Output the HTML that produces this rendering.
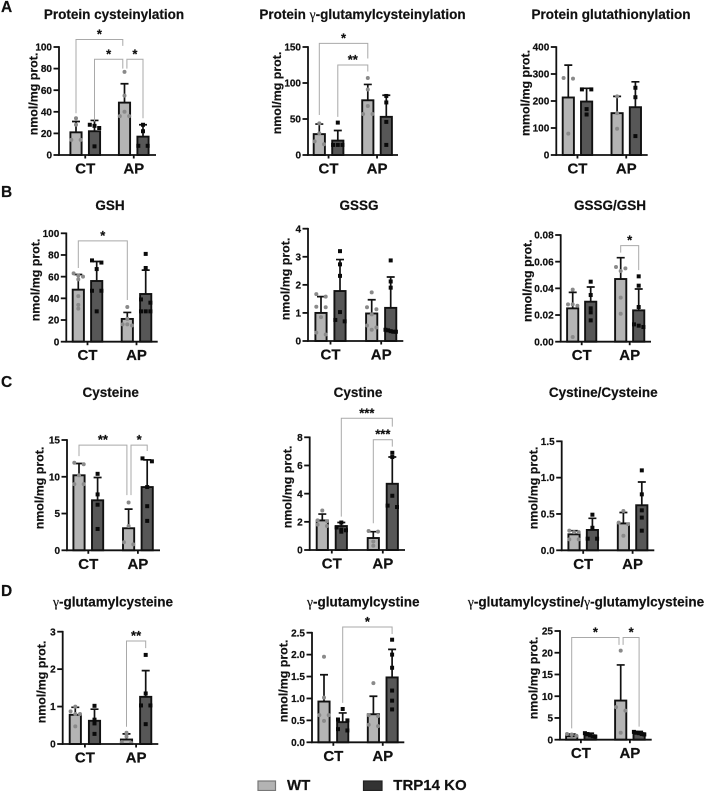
<!DOCTYPE html>
<html lang="en">
<head>
<meta charset="utf-8">
<title>Thiol metabolites in WT and TRP14 KO</title>
<style>
html,body{margin:0;padding:0;background:#fff;}
svg{display:block;font-family:"Liberation Sans",sans-serif;font-weight:bold;fill:#111;filter:blur(0.35px);}
svg text{stroke:#111;stroke-width:0.2px;}
.title{font-size:13.5px;text-anchor:middle;}
.ylabel{font-size:12.4px;text-anchor:middle;}
.letter{font-size:15.5px;}
.legend{font-size:15px;}
.g{font-family:"Liberation Serif",serif;font-weight:normal;}
</style>
</head>
<body>
<svg id="figure" width="705" height="791" viewBox="0 0 705 791" xmlns="http://www.w3.org/2000/svg">
  <text class="letter" x="1" y="12">A</text>
  <text class="letter" x="1" y="197">B</text>
  <text class="letter" x="1" y="387">C</text>
  <text class="letter" x="1" y="596">D</text>

  <text class="title" x="114" y="19">Protein cysteinylation</text>
  <text class="title" x="362.5" y="19">Protein <tspan class="g">γ</tspan>-glutamylcysteinylation</text>
  <text class="title" x="611" y="19">Protein glutathionylation</text>
  <text class="title" x="110" y="210">GSH</text>
  <text class="title" x="359" y="210">GSSG</text>
  <text class="title" x="610" y="210">GSSG/GSH</text>
  <text class="title" x="110.7" y="397">Cysteine</text>
  <text class="title" x="358" y="397">Cystine</text>
  <text class="title" x="603.3" y="397">Cystine/Cysteine</text>
  <text class="title" x="113" y="606.5"><tspan class="g">γ</tspan>-glutamylcysteine</text>
  <text class="title" x="363.3" y="606.5"><tspan class="g">γ</tspan>-glutamylcystine</text>
  <text class="title" x="586" y="606.5"><tspan class="g">γ</tspan>-glutamylcystine/<tspan class="g">γ</tspan>-glutamylcysteine</text>

  <text class="ylabel" transform="translate(37.5,94) rotate(-90)">nmol/mg prot.</text>
  <text class="ylabel" transform="translate(281,93) rotate(-90)">nmol/mg prot.</text>
  <text class="ylabel" transform="translate(529.5,93) rotate(-90)">mmol/mg prot.</text>
  <text class="ylabel" transform="translate(39.5,280) rotate(-90)">nmol/mg prot.</text>
  <text class="ylabel" transform="translate(289.5,279) rotate(-90)">nmol/mg prot.</text>
  <text class="ylabel" transform="translate(531.5,280.7) rotate(-90)">nmol/mg prot.</text>
  <text class="ylabel" transform="translate(43.5,488) rotate(-90)">nmol/mg prot.</text>
  <text class="ylabel" transform="translate(291.5,487) rotate(-90)">nmol/mg prot.</text>
  <text class="ylabel" transform="translate(537.5,488) rotate(-90)">nmol/mg prot.</text>
  <text class="ylabel" transform="translate(45.5,682) rotate(-90)">nmol/mg prot.</text>
  <text class="ylabel" transform="translate(287.5,681) rotate(-90)">nmol/mg prot.</text>
  <text class="ylabel" transform="translate(537.5,678) rotate(-90)">nmol/mg prot.</text>

  <g>
    <rect x="258" y="781" width="17.5" height="9.5" fill="#b3b3b3" stroke="#777" stroke-width="1.2"/>
    <text class="legend" x="287" y="790">WT</text>
    <rect x="363.5" y="781" width="18.5" height="9.5" fill="#333" stroke="#222" stroke-width="1.2"/>
    <text class="legend" x="393.3" y="790">TRP14 KO</text>
  </g>
</svg>
<script>
// Shared categories
const groupLabels = ['CT', 'AP'];
const seriesNames = ['WT', 'KO', 'WT', 'KO'];

// A1 Protein cysteinylation
const a1Ticks = ['0', '20', '40', '60', '80', '100'];
const a1Means = [21, 22, 48.5, 17];
const a1Upper = [31, 32, 66, 28];
const a1Points = [[34, 28, 14, 14], [28, 27, 25, 8], [77, 55, 40, 36, 36], [28, 22, 8.5, 8.5]];
const a1Brackets = [
  {from: 0, to: 2, top: 107, fromEnd: 38.6, toEnd: 101, label: '*'},
  {from: 1, to: 2, top: 88.6, fromEnd: 31, toEnd: 80, label: '*'},
  {from: 2, to: 3, top: 88.6, fromEnd: 80, toEnd: 34, label: '*'}
];

// A2 Protein gamma-glutamylcysteinylation
const a2Ticks = ['0', '50', '100', '150'];
const a2Means = [29, 20, 76, 53];
const a2Upper = [43, 34, 98, 83];
const a2Points = [[44, 30, 19, 15], [45, 14, 14, 14], [107, 91, 68, 57, 57], [82, 73, 46, 14]];
const a2Brackets = [
  {from: 0, to: 2, top: 155, fromEnd: 55.5, toEnd: 134, label: '*'},
  {from: 1, to: 2, top: 125, fromEnd: 53, toEnd: 116, label: '**'}
];

// A3 Protein glutathionylation
const a3Ticks = ['0', '100', '200', '300', '400'];
const a3Means = [213, 198, 155, 177];
const a3Upper = [333, 247, 217, 271];
const a3Points = [[285, 283, 79], [243, 243, 170, 150], [217, 155, 97], [249, 214, 70]];
const a3Brackets = [];

// B1 GSH
const b1Ticks = ['0', '20', '40', '60', '80', '100'];
const b1Means = [48, 56, 21, 44];
const b1Upper = [62, 74, 27, 66];
const b1Points = [[63, 61, 60, 57.5, 42, 34, 30.5], [75, 73, 67, 47, 47, 28], [32, 21, 16, 16, 15], [81, 68, 39, 36, 28, 28, 28]];
const b1Brackets = [
  {from: 0, to: 2, top: 93, fromEnd: 68, toEnd: 38.5, label: '*'}
];

// B2 GSSG
const b2Ticks = ['0', '1', '2', '3', '4'];
const b2Means = [1, 1.78, 0.98, 1.18];
const b2Upper = [1.58, 2.9, 1.47, 2.28];
const b2Points = [[1.67, 1.58, 1.22, 1.2, 0.85, 0.3, 0.23], [3.2, 2.73, 2.32, 1.03, 0.75, 0.7], [1.73, 1.2, 1.13, 0.95, 0.55, 0.48, 0.4], [2.87, 2.12, 1.9, 0.4, 0.38, 0.35, 0.33, 0.33]];
const b2Brackets = [];

// B3 GSSG/GSH
const b3Ticks = ['0.00', '0.02', '0.04', '0.06', '0.08'];
const b3Means = [0.025, 0.03, 0.047, 0.0235];
const b3Upper = [0.037, 0.041, 0.063, 0.0395];
const b3Points = [[0.039, 0.028, 0.028, 0.027, 0.0035], [0.045, 0.035, 0.025, 0.022, 0.016], [0.056, 0.055, 0.053, 0.033, 0.021], [0.049, 0.042, 0.026, 0.013, 0.012, 0.011]];
const b3Brackets = [
  {from: 2, to: 3, top: 0.072, fromEnd: 0.0668, toEnd: 0.0537, label: '*'}
];

// C1 Cysteine
const c1Ticks = ['0', '5', '10', '15'];
const c1Means = [10.2, 6.8, 3, 8.6];
const c1Upper = [11.8, 9.9, 5.6, 12.3];
const c1Points = [[11.9, 11.7, 10.2, 9, 9], [10.4, 7.6, 6.2, 2.9], [6.5, 3.3, 1.1, 0.8], [12.5, 12.1, 8.6, 6, 4]];
const c1Brackets = [
  {from: 0, to: 2, top: 14.3, fromEnd: 12.8, toEnd: 7.5, label: '**'},
  {from: 2, to: 3, top: 14.3, fromEnd: 7.5, toEnd: 13.5, label: '*'}
];

// C2 Cystine
const c2Ticks = ['0', '2', '4', '6', '8'];
const c2Means = [2.1, 1.7, 0.85, 4.7];
const c2Upper = [2.55, 1.95, 1.3, 6.6];
const c2Points = [[2.8, 2.1, 2.05, 1.8, 1.7], [1.95, 1.6, 1.45, 1.4, 1.3], [1.35, 1.3, 0.6, 0.3], [6.9, 6.6, 3.85, 3.15, 3.05]];
const c2Brackets = [
  {from: 1, to: 3, top: 9.35, fromEnd: 2.37, toEnd: 8.76, label: '***'},
  {from: 2, to: 3, top: 7.83, fromEnd: 1.9, toEnd: 7.34, label: '***'}
];

// C3 Cystine/Cysteine
const c3Ticks = ['0.0', '0.5', '1.0', '1.5'];
const c3Means = [0.22, 0.28, 0.37, 0.62];
const c3Upper = [0.27, 0.44, 0.52, 0.94];
const c3Points = [[0.27, 0.25, 0.25, 0.15, 0.15], [0.49, 0.31, 0.16, 0.16], [0.54, 0.38, 0.36, 0.2], [1.1, 0.77, 0.55, 0.45, 0.27]];
const c3Brackets = [];

// D1 gamma-glutamylcysteine
const d1Ticks = ['0', '1', '2', '3'];
const d1Means = [0.78, 0.62, 0.12, 1.26];
const d1Upper = [0.98, 0.93, 0.27, 1.96];
const d1Points = [[1, 0.87, 0.8, 0.8, 0.47], [1.02, 0.65, 0.55, 0.27], [0.3, 0.2, 0.05, 0.03], [2.38, 1.35, 1.03, 1.03, 0.53]];
const d1Brackets = [
  {from: 2, to: 3, top: 2.75, fromEnd: 0.46, toEnd: 2.56, label: '**'}
];

// D2 gamma-glutamylcystine
const d2Ticks = ['0.0', '0.5', '1.0', '1.5', '2.0', '2.5'];
const d2Means = [0.93, 0.46, 0.64, 1.48];
const d2Upper = [1.54, 0.67, 1.05, 2.12];
const d2Points = [[1.95, 1.02, 0.62, 0.62, 0.49], [0.76, 0.52, 0.5, 0.3, 0.27], [1.35, 0.62, 0.6, 0.4, 0.37], [2.34, 2, 1.7, 1.18, 0.95, 0.75]];
const d2Brackets = [
  {from: 1, to: 3, top: 2.63, fromEnd: 0.9, toEnd: 2.47, label: '*'}
];

// D3 gamma-glutamylcystine / gamma-glutamylcysteine
const d3Ticks = ['0', '5', '10', '15', '20', '25'];
const d3Means = [0.8, 1, 9, 1.5];
const d3Upper = [1.3, 1.5, 17.2, 1.9];
const d3Points = [[1.3, 1.2, 0.9, 0.3], [1.5, 1.3, 1, 0.8, 0.7], [20.5, 7.5, 6.7, 1.6], [1.8, 1.6, 1.5, 1.3, 1.2]];
const d3Brackets = [
  {from: 0, to: 2, top: 23.5, fromEnd: 2.6, toEnd: 21.8, label: '*'},
  {from: 2, to: 3, top: 23.5, fromEnd: 21.8, toEnd: 3, label: '*'}
];

// Panel layout (frame geometry only) joined with the data arrays above
const panels = [
  {id: 'a1', axisX: 59, y0: 155, yTop: 47, axisEnd: 156, first: 76, step: 18.5, gap: 30, ticks: a1Ticks, means: a1Means, upper: a1Upper, points: a1Points, brackets: a1Brackets},
  {id: 'a2', axisX: 308, y0: 155, yTop: 47, axisEnd: 398, first: 319.3, step: 18.5, gap: 30, ticks: a2Ticks, means: a2Means, upper: a2Upper, points: a2Points, brackets: a2Brackets},
  {id: 'a3', axisX: 556.3, y0: 155, yTop: 47, axisEnd: 647.7, first: 568.3, step: 18.3, gap: 30.5, ticks: a3Ticks, means: a3Means, upper: a3Upper, points: a3Points, brackets: a3Brackets},
  {id: 'b1', axisX: 66.3, y0: 341.7, yTop: 233.3, axisEnd: 157.7, first: 78.3, step: 18.4, gap: 30.6, ticks: b1Ticks, means: b1Means, upper: b1Upper, points: b1Points, brackets: b1Brackets},
  {id: 'b2', axisX: 308, y0: 341, yTop: 228.7, axisEnd: 403.3, first: 321, step: 19, gap: 31.7, ticks: b2Ticks, means: b2Means, upper: b2Upper, points: b2Points, brackets: b2Brackets},
  {id: 'b3', axisX: 560.7, y0: 341.7, yTop: 235, axisEnd: 651, first: 572.7, step: 18, gap: 30, ticks: b3Ticks, means: b3Means, upper: b3Upper, points: b3Points, brackets: b3Brackets},
  {id: 'c1', axisX: 67, y0: 550.3, yTop: 440, axisEnd: 160, first: 79, step: 18.6, gap: 31, ticks: c1Ticks, means: c1Means, upper: c1Upper, points: c1Points, brackets: c1Brackets},
  {id: 'c2', axisX: 309.7, y0: 550, yTop: 437.3, axisEnd: 405, first: 322.3, step: 19, gap: 32, ticks: c2Ticks, means: c2Means, upper: c2Upper, points: c2Points, brackets: c2Brackets},
  {id: 'c3', axisX: 561.7, y0: 550.3, yTop: 441.3, axisEnd: 654.3, first: 574, step: 18.4, gap: 31, ticks: c3Ticks, means: c3Means, upper: c3Upper, points: c3Points, brackets: c3Brackets},
  {id: 'd1', axisX: 62.7, y0: 744, yTop: 631.7, axisEnd: 158.3, first: 75.3, step: 19.2, gap: 32, ticks: d1Ticks, means: d1Means, upper: d1Upper, points: d1Points, brackets: d1Brackets},
  {id: 'd2', axisX: 312, y0: 742.3, yTop: 632.7, axisEnd: 404.3, first: 324, step: 18.7, gap: 30.7, ticks: d2Ticks, means: d2Means, upper: d2Upper, points: d2Points, brackets: d2Brackets},
  {id: 'd3', axisX: 560, y0: 739.7, yTop: 631, axisEnd: 651.7, first: 571.7, step: 18.4, gap: 30.6, ticks: d3Ticks, means: d3Means, upper: d3Upper, points: d3Points, brackets: d3Brackets}
];

const SVG_NS = 'http://www.w3.org/2000/svg';
const figure = document.getElementById('figure');

function mk(tag, attrs, parent, text) {
  const node = document.createElementNS(SVG_NS, tag);
  Object.keys(attrs).forEach(function (k) { node.setAttribute(k, attrs[k]); });
  if (text !== undefined) node.textContent = text;
  parent.appendChild(node);
  return node;
}

// Swarm layout: points within a few pixels of each other share a row and spread sideways.
function swarmOffsets(count) {
  if (count === 1) return [0];
  if (count === 2) return [-4.7, 4.7];
  const out = [];
  const spread = count === 3 ? 4.7 : 5.2;
  for (let i = 0; i < count; i++) out.push(-spread + (2 * spread * i) / (count - 1));
  return out;
}

function drawPanel(p) {
  const maxValue = Number(p.ticks[p.ticks.length - 1]);
  const yScale = function (v) { return p.y0 - (v / maxValue) * (p.y0 - p.yTop); };
  const barOffsets = [0, p.step, p.step + p.gap, 2 * p.step + p.gap];
  const xScale = function (i) { return p.first + barOffsets[i]; };

  const g = mk('g', {}, figure);
  
  

  // Bars, error bars and points
  p.means.forEach(function (mean, i) {
    const cx = xScale(i);
    const isWT = seriesNames[i] === 'WT';
    const bar = mk('rect', {
      x: cx - 5.6, y: yScale(mean), width: 11.2, height: p.y0 - yScale(mean),
      fill: isWT ? '#b4b4b4' : '#575757', stroke: '#111', 'stroke-width': 1.9
    }, g);
    
    

    const err = mk('path', {
      d: 'M' + cx + ' ' + yScale(mean) + 'V' + yScale(p.upper[i]) + 'M' + (cx - 4) + ' ' + yScale(p.upper[i]) + 'H' + (cx + 4),
      fill: 'none', stroke: '#111', 'stroke-width': 1.7
    }, g);
    
    

    const sorted = p.points[i].slice().sort(function (a, b) { return b - a; });
    let k = 0;
    while (k < sorted.length) {
      let end = k + 1;
      while (end < sorted.length && yScale(sorted[end]) - yScale(sorted[k]) < 3.5) end++;
      const offs = swarmOffsets(end - k);
      for (let m = k; m < end; m++) {
        const px = cx + offs[m - k];
        const py = yScale(sorted[m]);
        const dot = isWT
          ? mk('circle', {cx: px, cy: py, r: 2, fill: '#8a8a8a'}, g)
          : mk('rect', {x: px - 2, y: py - 2, width: 4, height: 4, fill: '#0a0a0a'}, g);
        
        
      }
      k = end;
    }
  });

  // Y axis
  const yAxis = mk('line', {x1: p.axisX, x2: p.axisX, y1: p.yTop - 0.8, y2: p.y0 + 0.8, stroke: '#111', 'stroke-width': 1.8}, g);
  
  
  p.ticks.forEach(function (label) {
    const ty = yScale(Number(label));
    const tick = mk('line', {x1: p.axisX - 5.5, x2: p.axisX, y1: ty, y2: ty, stroke: '#111', 'stroke-width': 1.8}, g);
    
    
    const tl = mk('text', {x: p.axisX - 7, y: ty + 3.6, 'text-anchor': 'end', 'font-size': 10}, g, label);
    
    
  });

  // X axis
  const xAxis = mk('line', {x1: p.axisX - 0.8, x2: p.axisEnd, y1: p.y0, y2: p.y0, stroke: '#111', 'stroke-width': 1.8}, g);
  
  
  groupLabels.forEach(function (label, gi) {
    const gx = (xScale(gi * 2) + xScale(gi * 2 + 1)) / 2;
    const tick = mk('line', {x1: gx, x2: gx, y1: p.y0, y2: p.y0 + 3.5, stroke: '#111', 'stroke-width': 1.8}, g);
    
    
    const tl = mk('text', {x: gx, y: p.y0 + 18.5, 'text-anchor': 'middle', 'font-size': 15}, g, label);
    
    
  });

  // Significance brackets
  p.brackets.forEach(function (b, bi) {
    const sharedTo = p.brackets.some(function (o) { return o.from === b.to; });
    const sharedFrom = p.brackets.some(function (o) { return o.to === b.from; });
    const x1 = xScale(b.from) + (sharedFrom ? 2.4 : 0);
    const x2 = xScale(b.to) - (sharedTo ? 1.7 : 0);
    const yT = yScale(b.top);
    const path = mk('path', {
      d: 'M' + x1 + ' ' + yScale(b.fromEnd) + 'V' + yT + 'H' + x2 + 'V' + yScale(b.toEnd),
      fill: 'none', stroke: '#a9a9a9', 'stroke-width': 1
    }, g);
    
    
    const star = mk('text', {x: (x1 + x2) / 2, y: yT - 1, 'text-anchor': 'middle', 'font-size': 13}, g, b.label);
    
    
  });
}

panels.forEach(drawPanel);
</script>
</body>
</html>
